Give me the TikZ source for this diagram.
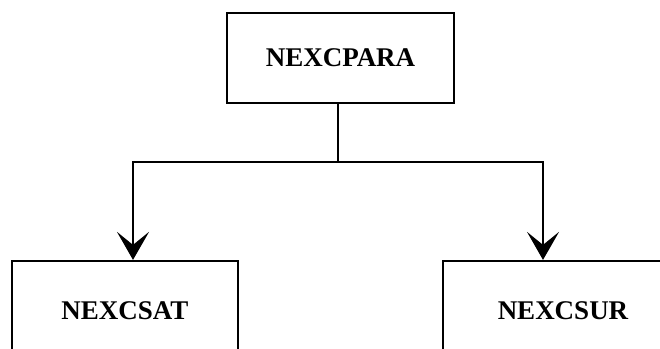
\documentclass[tikz,border=0pt]{standalone}
\usepackage{fontspec}
\setmainfont{Liberation Serif}
\usetikzlibrary{arrows.meta}
\begin{document}
\begin{tikzpicture}[x=1pt,y=-1pt,
  box/.style={draw=black,line width=2.2pt,fill=none,inner sep=0pt,
    font=\fontsize{27}{30}\selectfont\bfseries},
  link/.style={draw=black,line width=2.4pt},
  arr/.style={link,-{Stealth[length=28pt,width=32pt,inset=13pt]}}]
\useasboundingbox (0,0) rectangle (660,348);
\fill[white] (0,0) rectangle (660,348);
\node[box,minimum width=227pt,minimum height=90pt] (top) at (340.5,58) {NEXCPARA};
\node[box,minimum width=226pt,minimum height=100pt] (sat) at (125,311) {NEXCSAT};
\node[box,minimum width=240pt,minimum height=100pt] (sur) at (563,311) {NEXCSUR};
\coordinate (j) at ([xshift=-2.5pt]top.south |- 0,162);
\draw[link] ([xshift=-2.5pt]top.south) -- (j);
\draw[arr] (j) -| ([xshift=8pt]sat.north);
\draw[arr] (j) -| ([xshift=-20pt]sur.north);
\end{tikzpicture}
\end{document}
